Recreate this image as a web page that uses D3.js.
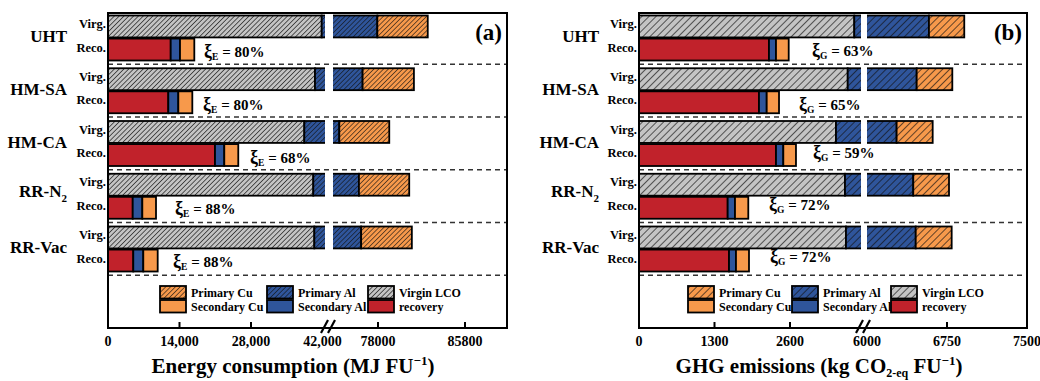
<!DOCTYPE html>
<html><head><meta charset="utf-8">
<script src="https://cdn.jsdelivr.net/npm/d3@7"></script>
<style>html,body{margin:0;padding:0;background:#fff;}svg{display:block;}</style>
</head><body>
<svg id="c" width="1040" height="381"></svg>
<script>
// ---------- data ----------
const categories = ["UHT", "HM-SA", "HM-CA", "RR-N2", "RR-Vac"];
const barKinds = ["Virg.", "Reco."];

// (a) Energy consumption, MJ per FU
const energyVirginLCO   = [41850, 40530, 38440, 40200, 40400];
const energyPrimaryAl   = [36090, 36090, 36090, 36090, 36090];
const energyPrimaryCu   = [4520, 4600, 4480, 4510, 4545];
const energyRecovery    = [12280, 11810, 20950, 4840, 4950];
const energySecondaryAl = [1820, 1960, 1820, 1880, 1960];
const energySecondaryCu = [2800, 2740, 2740, 2680, 2820];
const xiE = ["80%", "80%", "68%", "88%", "88%"];

// (b) GHG emissions, kg CO2-eq per FU
const ghgVirginLCO   = [3707, 3594, 3392, 3547, 3564];
const ghgPrimaryAl   = [2874, 2872, 2886, 2887, 2893];
const ghgPrimaryCu   = [331, 334, 338, 335, 337];
const ghgRecovery    = [2238, 2066, 2359, 1527, 1550];
const ghgSecondaryAl = [121, 133, 126, 126, 120];
const ghgSecondaryCu = [219, 212, 218, 229, 224];
const xiG = ["63%", "65%", "59%", "72%", "72%"];

// axis ticks
const energyTicksLeft  = [0, 14000, 28000, 42000];
const energyTickLabelsLeft = ["0", "14,000", "28,000", "42,000"];
const energyTicksRight = [78000, 85800];
const energyTickLabelsRight = ["78000", "85800"];
const ghgTicksLeft  = [0, 1300, 2600];
const ghgTickLabelsLeft = ["0", "1300", "2600"];
const ghgTicksRight = [6000, 6750, 7500];
const ghgTickLabelsRight = ["6000", "6750", "7500"];

const legendItems = [
  {label: "Primary Cu", key: "pCu"}, {label: "Secondary Cu", key: "sCu"},
  {label: "Primary Al", key: "pAl"}, {label: "Secondary Al", key: "sAl"},
  {label: "Virgin LCO", key: "vLCO"}, {label: "recovery", key: "rec"}
];

// ---------- styling ----------
const FONT = "'Liberation Serif','Times New Roman',serif";
const colors = {red: "#c1222b", blue: "#2f559b", orange: "#f7994b", gray: "#c4c4c4"};

const svg = d3.select("#c");
const defs = svg.append("defs");

function hatch(id, base, spacing, sw) {
  const p = defs.append("pattern").attr("id", id).attr("patternUnits", "userSpaceOnUse")
    .attr("width", spacing).attr("height", spacing).attr("patternTransform", "rotate(45)");
  p.append("rect").attr("width", spacing).attr("height", spacing).attr("fill", base);
  p.append("line").attr("x1", 0).attr("y1", 0).attr("x2", 0).attr("y2", spacing)
    .attr("stroke", "#111").attr("stroke-width", sw);
}
hatch("hGrayA", colors.gray, 3.4, 1.3);
hatch("hBlueA", colors.blue, 3.4, 1.2);
hatch("hOrangeA", colors.orange, 3.4, 1.2);
hatch("hGrayB", colors.gray, 5, 1.3);
hatch("hBlueB", colors.blue, 5, 1.3);
hatch("hOrangeB", colors.orange, 5, 1.3);

function brokenScale(ld, lr, rd, rr) {
  const ls = d3.scaleLinear().domain(ld).range(lr);
  const rs = d3.scaleLinear().domain(rd).range(rr);
  const f = v => v <= ld[1] ? ls(v) : (v >= rd[0] ? rs(v) : (v - ld[1] < rd[0] - v ? lr[1] : rr[0]));
  f.left = ls; f.right = rs; f.lmax = ld[1]; f.rmin = rd[0];
  return f;
}

function drawPanel(cfg) {
  const g = svg.append("g");
  const x = cfg.x;
  const [x0, x1] = [cfg.left, cfg.right];
  const yBand = d3.scaleBand().domain(categories.concat(["legend"])).range([11.5, 328]);
  const yInner = d3.scaleBand().domain(barKinds).range([4, 49]).paddingInner(0.05);

  // dashed separators
  categories.forEach((c, i) => {
    const y = yBand(c) + yBand.bandwidth();
    g.append("line").attr("x1", x0).attr("x2", x1).attr("y1", y).attr("y2", y)
      .attr("stroke", "#333").attr("stroke-width", 1.4).attr("stroke-dasharray", "5,4");
  });

  function drawSeg(y, h, a, b, fill) {
    const pieces = [];
    if (a < x.lmax) pieces.push([a, Math.min(b, x.lmax)]);
    if (b > x.rmin) pieces.push([Math.max(a, x.rmin), b]);
    pieces.forEach(([p, q]) => {
      g.append("rect").attr("x", x(p)).attr("y", y).attr("width", x(q) - x(p)).attr("height", h)
        .attr("fill", fill).attr("stroke", "#000").attr("stroke-width", 1.8);
    });
  }

  categories.forEach((c, i) => {
    const t = yBand(c);
    const yv = t + yInner("Virg."), yr = t + yInner("Reco."), h = yInner.bandwidth();
    // virgin stack
    let s0 = 0;
    [[cfg.virg[i], cfg.hGray], [cfg.pAl[i], cfg.hBlue], [cfg.pCu[i], cfg.hOrange]].forEach(([v, f]) => {
      drawSeg(yv, h, s0, s0 + v, f); s0 += v;
    });
    // recovered stack
    let s1 = 0;
    [[cfg.rec[i], colors.red], [cfg.sAl[i], colors.blue], [cfg.sCu[i], colors.orange]].forEach(([v, f]) => {
      drawSeg(yr, h, s1, s1 + v, f); s1 += v;
    });
    // break gap
    g.append("rect").attr("x", x.left(x.lmax) - 1).attr("y", yv - 2)
      .attr("width", x.right(x.rmin) - x.left(x.lmax) + 2).attr("height", h + 4).attr("fill", "#fff");

    // labels
    const lab = g.append("text").attr("x", cfg.catX).attr("y", t + (c === "RR-N2" ? 27 : 30.5))
      .attr("text-anchor", "end").attr("font-family", FONT).attr("font-weight", "bold").attr("font-size", 17);
    const m = c.match(/^(.*N)(\d)$/);
    if (m) {
      lab.append("tspan").text(m[1]);
      lab.append("tspan").attr("font-size", 11).attr("dy", 5).text(m[2]);
    } else lab.text(c);
    g.append("text").attr("x", x0 - 2).attr("y", t + 16.5).attr("text-anchor", "end")
      .attr("font-family", FONT).attr("font-weight", "bold").attr("font-size", 12.5).text("Virg.");
    g.append("text").attr("x", x0 - 2).attr("y", t + 40).attr("text-anchor", "end")
      .attr("font-family", FONT).attr("font-weight", "bold").attr("font-size", 12.5).text("Reco.");

    // xi label
    const xl = g.append("text").attr("x", cfg.xiPos[i][0]).attr("y", cfg.xiPos[i][1])
      .attr("font-family", FONT).attr("font-weight", "bold").attr("font-size", 15);
    xl.append("tspan").attr("font-size", 18).text("ξ");
    xl.append("tspan").attr("font-size", 9.5).attr("dy", 3).text(cfg.xiSub);
    xl.append("tspan").attr("dy", -3).text(" = " + cfg.xi[i]);
  });

  // frame
  g.append("rect").attr("x", x0).attr("y", 13).attr("width", x1 - x0).attr("height", 328 - 13)
    .attr("fill", "none").attr("stroke", "#000").attr("stroke-width", 2);

  // ticks
  const tickData = cfg.ticksL.map((v, k) => ({px: x.left(v), label: cfg.labelsL[k], v}))
    .concat(cfg.ticksR.map((v, k) => ({px: x.right(v), label: cfg.labelsR[k], v})));
  tickData.forEach(d => {
    if (d.px > x0 + 1 && d.px < x1 - 1 && Math.abs(d.px - (x.left(x.lmax) + x.right(x.rmin)) / 2) > 8) {
      g.append("line").attr("x1", d.px).attr("x2", d.px).attr("y1", 328).attr("y2", 322)
        .attr("stroke", "#000").attr("stroke-width", 2);
    }
    g.append("text").attr("x", d.px).attr("y", 346).attr("text-anchor", "middle")
      .attr("font-family", FONT).attr("font-weight", "bold").attr("font-size", 14).text(d.label);
  });

  // break marks
  const cx = (x.left(x.lmax) + x.right(x.rmin)) / 2;
  [-4, 3].forEach(o => {
    g.append("line").attr("x1", cx + o - 4).attr("y1", 333).attr("x2", cx + o + 3).attr("y2", 320)
      .attr("stroke", "#000").attr("stroke-width", 2.2);
  });

  // legend
  const patMap = {pCu: cfg.hOrange, sCu: colors.orange, pAl: cfg.hBlue, sAl: colors.blue, vLCO: cfg.hGray, rec: colors.red};
  legendItems.forEach((it, k) => {
    const col = Math.floor(k / 2), row = k % 2;
    const lx = cfg.legendX[col], ly = 286 + row * 14;
    g.append("rect").attr("x", lx).attr("y", ly).attr("width", 26).attr("height", 12.5)
      .attr("fill", patMap[it.key]).attr("stroke", "#000").attr("stroke-width", 1.8);
    g.append("text").attr("x", lx + 31).attr("y", ly + 10.5).attr("font-family", FONT)
      .attr("font-weight", "bold").attr("font-size", 12).text(it.label);
  });

  // panel tag
  g.append("text").attr("x", x1 - 5).attr("y", 40).attr("text-anchor", "end").attr("font-family", FONT)
    .attr("font-weight", "bold").attr("font-size", 23).text(cfg.tag);

  // axis title
  const tt = g.append("text").attr("x", cfg.titleX).attr("y", 373).attr("text-anchor", "middle")
    .attr("font-family", FONT).attr("font-weight", "bold").attr("font-size", 21);
  cfg.title(tt);
}

drawPanel({
  x: brokenScale([0, 42687], [108, 326], [73876, 89565], [332, 507]),
  left: 108, right: 507, catX: 67,
  virg: energyVirginLCO, pAl: energyPrimaryAl, pCu: energyPrimaryCu,
  rec: energyRecovery, sAl: energySecondaryAl, sCu: energySecondaryCu,
  hGray: "url(#hGrayA)", hBlue: "url(#hBlueA)", hOrange: "url(#hOrangeA)",
  xi: xiE, xiSub: "E",
  xiPos: [[204, 57], [203, 110], [250, 163], [175, 214], [173, 267]],
  ticksL: energyTicksLeft, labelsL: energyTickLabelsLeft,
  ticksR: energyTicksRight, labelsR: energyTickLabelsRight,
  legendX: [160, 267, 368], tag: "(a)", titleX: 293,
  title: t => {
    t.append("tspan").text("Energy consumption (MJ FU");
    t.append("tspan").attr("font-size", 13).attr("dy", -8).text("−1");
    t.append("tspan").attr("dy", 8).text(")");
  }
});

drawPanel({
  x: brokenScale([0, 3840], [639, 862], [5991, 7500], [866, 1027]),
  left: 639, right: 1027, catX: 599,
  virg: ghgVirginLCO, pAl: ghgPrimaryAl, pCu: ghgPrimaryCu,
  rec: ghgRecovery, sAl: ghgSecondaryAl, sCu: ghgSecondaryCu,
  hGray: "url(#hGrayB)", hBlue: "url(#hBlueB)", hOrange: "url(#hOrangeB)",
  xi: xiG, xiSub: "G",
  xiPos: [[812, 56], [799, 110], [813, 158], [769, 210], [770, 262]],
  ticksL: ghgTicksLeft, labelsL: ghgTickLabelsLeft,
  ticksR: ghgTicksRight, labelsR: ghgTickLabelsRight,
  legendX: [688, 792, 891], tag: "(b)", titleX: 819,
  title: t => {
    t.append("tspan").text("GHG emissions (kg CO");
    t.append("tspan").attr("font-size", 12).attr("dy", 4).text("2-eq");
    t.append("tspan").attr("dy", -4).text(" FU");
    t.append("tspan").attr("font-size", 13).attr("dy", -8).text("−1");
    t.append("tspan").attr("dy", 8).text(")");
  }
});
</script>
</body></html>
